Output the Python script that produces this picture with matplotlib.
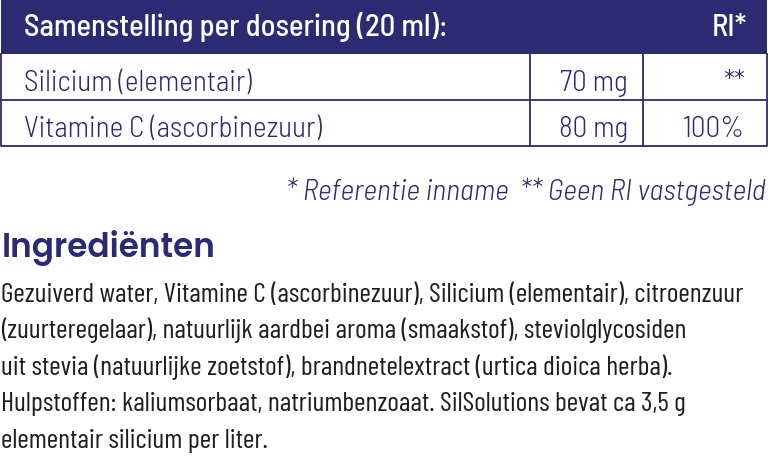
import matplotlib
matplotlib.use("Agg")
import matplotlib.pyplot as plt
from matplotlib.patches import Rectangle

# table content
header_left = "Samenstelling per dosering (20 ml):"
header_right = "RI*"
ingredients = ["Silicium (elementair)", "Vitamine C (ascorbinezuur)"]
amounts_mg = [70, 80]
ri_values = ["**", "100%"]
footnote = "* Referentie inname  ** Geen RI vastgesteld"

heading = "Ingrediënten"
paragraph = [
    "Gezuiverd water, Vitamine C (ascorbinezuur), Silicium (elementair), citroenzuur",
    "(zuurteregelaar), natuurlijk aardbei aroma (smaakstof), steviolglycosiden",
    "uit stevia (natuurlijke zoetstof), brandnetelextract (urtica dioica herba).",
    "Hulpstoffen: kaliumsorbaat, natriumbenzoaat. SilSolutions bevat ca 3,5 g",
    "elementair silicium per liter.",
]

navy = "#2b2a73"
ink = "#1e1e1e"
semi = "Barlow Semi Condensed"
cond = "Barlow Condensed"

fig = plt.figure(figsize=(7.68, 4.64), dpi=100)
ax = fig.add_axes([0, 0, 1, 1])
ax.set_xlim(0, 768)
ax.set_ylim(464, 0)
ax.axis("off")

# table geometry (pixels)
left, right = 1, 766.5
col1, col2 = 530, 643
top, head_bot = 0.5, 55
row_h = 45.8
lw = 1.3

ax.add_patch(Rectangle((left, top), right - left, head_bot - top, color=navy, lw=0))
ax.text(24, 36, header_left, color="white", fontsize=22, family=semi,
        weight=500, va="baseline", ha="left")
ax.text(747, 36, header_right, color="white", fontsize=22, family=semi,
        weight=500, va="baseline", ha="right")

n = len(ingredients)
bottom = head_bot + n * row_h
ax.plot([left, left, right, right], [head_bot, bottom, bottom, head_bot], color=navy, lw=lw)
for i in range(1, n):
    ax.plot([left, right], [head_bot + i * row_h] * 2, color=navy, lw=lw)
for x in (col1, col2):
    ax.plot([x, x], [head_bot, bottom], color=navy, lw=lw)

for i, (name, amt, ri) in enumerate(zip(ingredients, amounts_mg, ri_values)):
    base = head_bot + (i + 1) * row_h - 10
    ax.text(24, base, name, color=navy, fontsize=21, family=semi, weight=300,
            va="baseline", ha="left")
    ax.text(628, base, f"{amt} mg", color=navy, fontsize=21, family=semi, weight=300,
            va="baseline", ha="right")
    ax.text(745, base, ri, color=navy, fontsize=21, family=semi, weight=300,
            va="baseline", ha="right")

ax.text(766, 200, footnote, color=navy, fontsize=21.5, family=semi, weight=300,
        style="italic", va="baseline", ha="right")

ax.text(2, 257, heading, color=navy, fontsize=23.5, family="Poppins", weight=600,
        va="baseline", ha="left")

for i, line in enumerate(paragraph):
    ax.text(1, 302 + i * 36.5, line, color=ink, fontsize=20, family=cond,
            weight=400, va="baseline", ha="left")

fig.savefig("out.png", dpi=100)
